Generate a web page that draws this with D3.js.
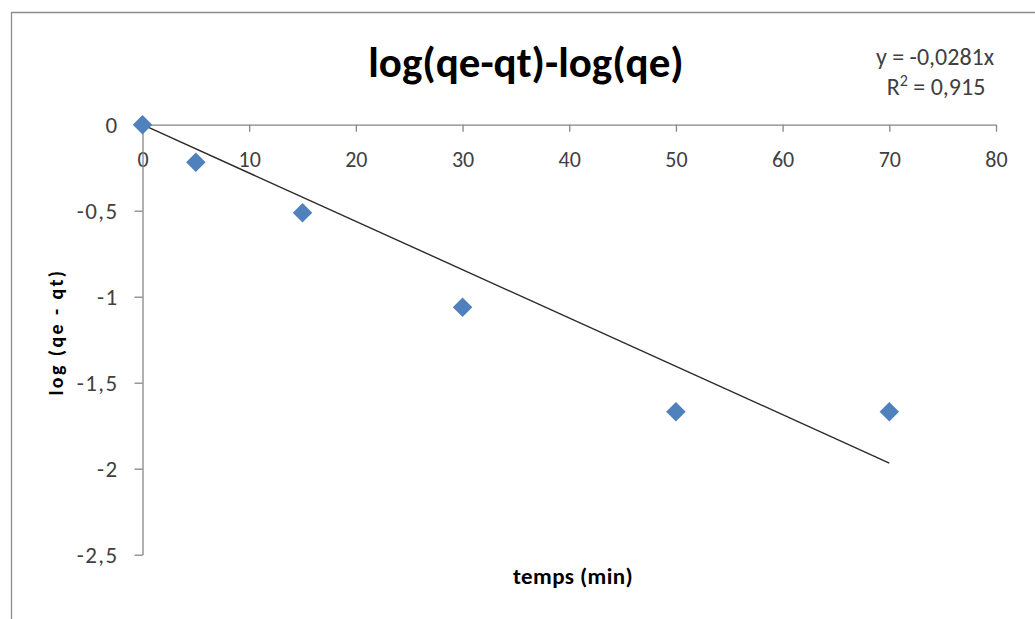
<!DOCTYPE html>
<html>
<head>
<meta charset="utf-8">
<script src="https://cdn.jsdelivr.net/npm/d3@7"></script>
<style>
	body { margin: 0; background: #fff; }
	svg { display: block; font-family: Carlito, Lato, "Open Sans", sans-serif; }
</style>
</head>
<body>
<div id="chart"></div>
<script>
// data
var temps = [0, 5, 15, 30, 50, 70];
var logvals = [0, -0.219, -0.512, -1.062, -1.669, -1.669];
var xTicks = [0, 10, 20, 30, 40, 50, 60, 70, 80];
var yTicks = [0, -0.5, -1, -1.5, -2, -2.5];
var trend_slope = -0.0281;
var trend_r2 = 0.915;
var trend_range = [0, 70];

var chart_fmt = {
	width: 1035,
	height: 619,
	clr_axis: '#868686',
	clr_text: '#404040',
	clr_point: '#4f81bd',
	clr_trend: '#2b2b2b'
};

function fmt_fr(v) {
	// french decimal comma
	return String(v).replace('.', ',');
}

function drawchart() {
	var svg = d3.select('#chart').append('svg')
		.attr('width', chart_fmt.width)
		.attr('height', chart_fmt.height);

	// chart frame (only top and left show)
	svg.append('path')
		.attr('d', 'M11.5,619 L11.5,12.5 L1035,12.5')
		.attr('fill', 'none')
		.attr('stroke', '#8c8c8c')
		.attr('stroke-width', 1.3);

	var xScale = d3.scaleLinear().domain([0, 80]).range([142.5, 996]);
	var yScale = d3.scaleLinear().domain([-2.5, 0]).range([554.7, 124.7]);

	// x axis, crosses at y = 0
	var xAxis = svg.append('g')
		.attr('class', 'x axis')
		.attr('transform', `translate(0,${yScale(0)})`)
		.call(d3.axisBottom(xScale).tickValues(xTicks).tickSize(7).tickSizeOuter(0).tickFormat(function(d){ return d; }));
	xAxis.select('.domain').attr('stroke', chart_fmt.clr_axis).attr('stroke-width', 1.3);
	xAxis.selectAll('.tick line').attr('stroke', chart_fmt.clr_axis).attr('stroke-width', 1.3);
	xAxis.selectAll('.tick text')
		.attr('y', 35)
		.attr('dy', '0.34em')
		.style('font-size', '22px')
		.style('fill', chart_fmt.clr_text);

	// y axis
	var yAxis = svg.append('g')
		.attr('class', 'y axis')
		.attr('transform', `translate(${xScale(0)},0)`)
		.call(d3.axisLeft(yScale).tickValues(yTicks).tickSize(8).tickSizeOuter(0).tickFormat(fmt_fr));
	yAxis.select('.domain').attr('stroke', chart_fmt.clr_axis).attr('stroke-width', 1.3);
	yAxis.selectAll('.tick line').attr('stroke', chart_fmt.clr_axis).attr('stroke-width', 1.3);
	yAxis.selectAll('.tick text')
		.attr('x', -24)
		.attr('dy', '0.36em')
		.style('font-size', '23px')
		.style('letter-spacing', '1.4px')
		.style('fill', chart_fmt.clr_text);
	svg.selectAll('.axis').attr('font-family', null);

	// linear trend line
	var line = d3.line()
		.x(function(d) { return xScale(d); })
		.y(function(d) { return yScale(trend_slope * d); });
	svg.append('path')
		.datum(trend_range)
		.attr('d', line)
		.attr('fill', 'none')
		.attr('stroke', chart_fmt.clr_trend)
		.attr('stroke-width', 1.4);

	// diamond markers
	var diamond = d3.symbol().type(d3.symbolSquare).size(190);
	svg.selectAll('path.pt')
		.data(temps)
		.enter().append('path')
		.attr('class', 'pt')
		.attr('d', diamond)
		.attr('transform', function(d, i) { return `translate(${xScale(d)},${yScale(logvals[i])}) rotate(45)`; })
		.attr('fill', chart_fmt.clr_point);

	// texts
	svg.append('text')
		.attr('x', 526).attr('y', 77)
		.attr('text-anchor', 'middle')
		.style('font-size', '43px').style('font-weight', 'bold').style('fill', '#000')
		.text('log(qe-qt)-log(qe)');

	svg.append('text')
		.attr('x', 935).attr('y', 65)
		.attr('text-anchor', 'middle')
		.style('font-size', '24px').style('fill', chart_fmt.clr_text)
		.text('y = ' + fmt_fr(trend_slope) + 'x');
	var r2 = svg.append('text')
		.attr('x', 936).attr('y', 95)
		.attr('text-anchor', 'middle')
		.style('font-size', '24px').style('fill', chart_fmt.clr_text);
	r2.append('tspan').text('R');
	r2.append('tspan').attr('dy', -9).style('font-size', '16px').text('2');
	r2.append('tspan').attr('dy', 9).text(' = ' + fmt_fr(trend_r2));

	svg.append('text')
		.attr('x', 573).attr('y', 584)
		.attr('text-anchor', 'middle')
		.style('font-size', '23px').style('font-weight', 'bold').style('fill', '#000')
		.style('letter-spacing', '0.4px')
		.text('temps (min)');

	svg.append('text')
		.attr('transform', 'translate(63,332) rotate(-90)')
		.attr('text-anchor', 'middle')
		.style('font-size', '20px').style('font-weight', 'bold').style('fill', '#000')
		.style('letter-spacing', '2.4px')
		.text('log (qe - qt)');
}

drawchart();
</script>
</body>
</html>
